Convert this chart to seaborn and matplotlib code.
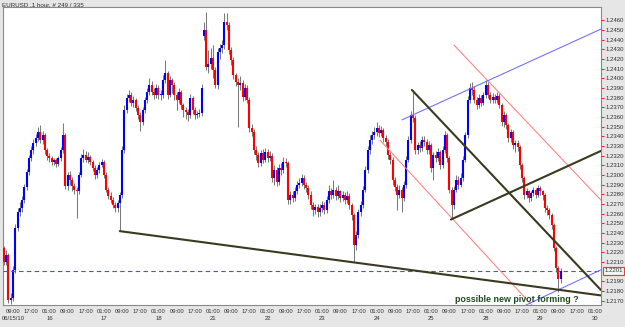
import matplotlib
matplotlib.use("Agg")
import matplotlib.pyplot as plt
import matplotlib.transforms as mtransforms
import numpy as np
import pandas as pd
import seaborn as sns

# ---------------- data (EURUSD, 1 hour) ----------------
bar_index = list(range(-4, 242))

opens = [
1.2225,1.2210,1.2217,1.2171,1.2173,1.2202,1.2245,1.2262,1.2266,1.2274,
1.2288,1.2303,1.2318,1.2326,1.2333,1.2338,1.2345,1.2336,1.2341,1.2326,
1.2320,1.2318,1.2313,1.2316,1.2311,1.2318,1.2326,1.2341,1.2289,1.2300,
1.2295,1.2289,1.2285,1.2283,1.2300,1.2318,1.2321,1.2316,1.2319,1.2313,
1.2307,1.2300,1.2305,1.2310,1.2313,1.2300,1.2285,1.2278,1.2274,1.2269,
1.2266,1.2271,1.2279,1.2326,1.2367,1.2380,1.2383,1.2374,1.2378,1.2369,
1.2362,1.2355,1.2367,1.2378,1.2386,1.2393,1.2386,1.2383,1.2390,1.2383,
1.2383,1.2398,1.2406,1.2383,1.2398,1.2393,1.2383,1.2378,1.2386,1.2372,
1.2367,1.2365,1.2362,1.2380,1.2367,1.2362,1.2363,1.2364,1.2444,1.2450,
1.2412,1.2415,1.2421,1.2409,1.2393,1.2427,1.2431,1.2434,1.2458,1.2455,
1.2429,1.2419,1.2403,1.2396,1.2393,1.2395,1.2381,1.2390,1.2378,1.2349,
1.2345,1.2326,1.2321,1.2312,1.2323,1.2316,1.2324,1.2318,1.2320,1.2297,
1.2305,1.2293,1.2307,1.2305,1.2314,1.2312,1.2274,1.2279,1.2276,1.2283,
1.2290,1.2292,1.2297,1.2290,1.2287,1.2279,1.2269,1.2264,1.2267,1.2262,
1.2266,1.2269,1.2264,1.2274,1.2283,1.2279,1.2285,1.2278,1.2283,1.2276,
1.2279,1.2274,1.2278,1.2269,1.2259,1.2228,1.2238,1.2262,1.2269,1.2285,
1.2305,1.2326,1.2336,1.2341,1.2345,1.2349,1.2343,1.2347,1.2338,1.2334,
1.2321,1.2316,1.2295,1.2288,1.2279,1.2285,1.2276,1.2290,1.2316,1.2336,
1.2362,1.2359,1.2326,1.2331,1.2328,1.2336,1.2334,1.2326,1.2331,1.2307,
1.2321,1.2318,1.2324,1.2310,1.2326,1.2341,1.2318,1.2285,1.2269,1.2285,
1.2295,1.2290,1.2297,1.2316,1.2341,1.2378,1.2390,1.2388,1.2378,1.2372,
1.2380,1.2374,1.2383,1.2393,1.2383,1.2378,1.2381,1.2378,1.2382,1.2372,
1.2355,1.2362,1.2352,1.2338,1.2345,1.2331,1.2333,1.2329,1.2310,1.2297,
1.2279,1.2283,1.2276,1.2281,1.2285,1.2279,1.2287,1.2283,1.2279,1.2266,
1.2264,1.2259,1.2248,1.2225,1.2204,1.2192]

highs = [
1.2227,1.2222,1.2219,1.2178,1.2206,1.2249,1.2266,1.2272,1.2278,1.2291,
1.2306,1.2321,1.2330,1.2337,1.2342,1.2350,1.2352,1.2346,1.2343,1.2328,
1.2323,1.2320,1.2318,1.2318,1.2320,1.2329,1.2354,1.2344,1.2303,1.2304,
1.2298,1.2292,1.2288,1.2303,1.2322,1.2327,1.2325,1.2324,1.2321,1.2316,
1.2310,1.2308,1.2313,1.2317,1.2316,1.2303,1.2288,1.2282,1.2277,1.2272,
1.2274,1.2282,1.2330,1.2372,1.2384,1.2388,1.2386,1.2382,1.2380,1.2372,
1.2365,1.2370,1.2381,1.2390,1.2400,1.2397,1.2390,1.2394,1.2393,1.2388,
1.2403,1.2419,1.2408,1.2402,1.2400,1.2396,1.2386,1.2390,1.2388,1.2375,
1.2370,1.2368,1.2384,1.2382,1.2370,1.2366,1.2368,1.2394,1.2458,1.2469,
1.2429,1.2431,1.2434,1.2412,1.2431,1.2436,1.2440,1.2468,1.2468,1.2458,
1.2432,1.2422,1.2406,1.2400,1.2402,1.2398,1.2394,1.2393,1.2381,1.2353,
1.2348,1.2330,1.2324,1.2326,1.2327,1.2328,1.2327,1.2325,1.2323,1.2310,
1.2308,1.2311,1.2312,1.2319,1.2318,1.2315,1.2284,1.2283,1.2288,1.2294,
1.2297,1.2301,1.2300,1.2293,1.2290,1.2283,1.2272,1.2270,1.2270,1.2270,
1.2273,1.2272,1.2278,1.2290,1.2287,1.2295,1.2288,1.2290,1.2285,1.2283,
1.2282,1.2284,1.2281,1.2271,1.2261,1.2242,1.2265,1.2273,1.2289,1.2309,
1.2330,1.2341,1.2346,1.2350,1.2355,1.2352,1.2351,1.2349,1.2341,1.2337,
1.2324,1.2319,1.2298,1.2291,1.2290,1.2288,1.2294,1.2320,1.2340,1.2366,
1.2388,1.2362,1.2334,1.2335,1.2340,1.2340,1.2337,1.2335,1.2333,1.2324,
1.2325,1.2328,1.2326,1.2330,1.2346,1.2344,1.2320,1.2288,1.2289,1.2300,
1.2299,1.2302,1.2320,1.2345,1.2382,1.2395,1.2396,1.2392,1.2381,1.2384,
1.2383,1.2386,1.2398,1.2396,1.2386,1.2385,1.2384,1.2386,1.2385,1.2374,
1.2366,1.2364,1.2354,1.2348,1.2347,1.2336,1.2336,1.2331,1.2312,1.2299,
1.2287,1.2285,1.2284,1.2288,1.2287,1.2290,1.2289,1.2285,1.2281,1.2269,
1.2266,1.2261,1.2250,1.2227,1.2206,1.2204]

lows = [
1.2207,1.2207,1.2168,1.2167,1.2170,1.2199,1.2242,1.2258,1.2262,1.2271,
1.2285,1.2300,1.2315,1.2322,1.2330,1.2335,1.2333,1.2332,1.2322,1.2316,
1.2313,1.2310,1.2310,1.2308,1.2309,1.2315,1.2323,1.2286,1.2285,1.2290,
1.2284,1.2280,1.2256,1.2280,1.2298,1.2314,1.2313,1.2312,1.2310,1.2304,
1.2296,1.2297,1.2302,1.2308,1.2297,1.2282,1.2275,1.2271,1.2266,1.2262,
1.2262,1.2243,1.2276,1.2323,1.2364,1.2376,1.2371,1.2370,1.2366,1.2358,
1.2346,1.2352,1.2364,1.2375,1.2383,1.2383,1.2379,1.2380,1.2379,1.2378,
1.2380,1.2395,1.2379,1.2381,1.2385,1.2378,1.2367,1.2374,1.2368,1.2360,
1.2358,1.2356,1.2359,1.2363,1.2358,1.2359,1.2360,1.2361,1.2440,1.2409,
1.2406,1.2410,1.2400,1.2390,1.2389,1.2420,1.2426,1.2430,1.2450,1.2425,
1.2414,1.2399,1.2392,1.2350,1.2388,1.2377,1.2378,1.2374,1.2345,1.2340,
1.2322,1.2316,1.2308,1.2309,1.2312,1.2313,1.2314,1.2315,1.2293,1.2290,
1.2289,1.2290,1.2300,1.2302,1.2308,1.2270,1.2270,1.2272,1.2273,1.2280,
1.2287,1.2289,1.2286,1.2282,1.2275,1.2265,1.2258,1.2260,1.2257,1.2258,
1.2262,1.2260,1.2261,1.2271,1.2275,1.2276,1.2274,1.2275,1.2272,1.2273,
1.2270,1.2271,1.2265,1.2254,1.2210,1.2222,1.2235,1.2258,1.2266,1.2282,
1.2302,1.2322,1.2332,1.2337,1.2340,1.2339,1.2340,1.2334,1.2330,1.2317,
1.2311,1.2290,1.2283,1.2264,1.2276,1.2262,1.2273,1.2287,1.2313,1.2333,
1.2355,1.2322,1.2322,1.2324,1.2325,1.2330,1.2322,1.2322,1.2303,1.2295,
1.2314,1.2315,1.2306,1.2307,1.2323,1.2314,1.2281,1.2256,1.2265,1.2282,
1.2286,1.2288,1.2294,1.2313,1.2338,1.2375,1.2383,1.2374,1.2368,1.2369,
1.2371,1.2372,1.2380,1.2380,1.2374,1.2375,1.2374,1.2375,1.2369,1.2351,
1.2350,1.2348,1.2334,1.2334,1.2327,1.2324,1.2325,1.2306,1.2293,1.2275,
1.2276,1.2272,1.2273,1.2278,1.2276,1.2277,1.2279,1.2274,1.2262,1.2259,
1.2255,1.2244,1.2221,1.2200,1.2179,1.2188]

closes = [
1.2210,1.2217,1.2171,1.2173,1.2202,1.2245,1.2262,1.2266,1.2274,1.2288,
1.2303,1.2318,1.2326,1.2333,1.2338,1.2345,1.2336,1.2341,1.2326,1.2320,
1.2318,1.2313,1.2316,1.2311,1.2318,1.2326,1.2341,1.2289,1.2300,1.2295,
1.2289,1.2285,1.2283,1.2300,1.2318,1.2321,1.2316,1.2319,1.2313,1.2307,
1.2300,1.2305,1.2310,1.2313,1.2300,1.2285,1.2278,1.2274,1.2269,1.2266,
1.2271,1.2279,1.2326,1.2367,1.2380,1.2383,1.2374,1.2378,1.2369,1.2362,
1.2355,1.2367,1.2378,1.2386,1.2393,1.2386,1.2383,1.2390,1.2383,1.2383,
1.2398,1.2406,1.2383,1.2398,1.2393,1.2383,1.2378,1.2386,1.2372,1.2367,
1.2365,1.2362,1.2380,1.2367,1.2362,1.2363,1.2364,1.2390,1.2450,1.2412,
1.2415,1.2421,1.2409,1.2393,1.2427,1.2431,1.2434,1.2458,1.2455,1.2429,
1.2419,1.2403,1.2396,1.2393,1.2395,1.2381,1.2390,1.2378,1.2349,1.2345,
1.2326,1.2321,1.2312,1.2323,1.2316,1.2324,1.2318,1.2320,1.2297,1.2305,
1.2293,1.2307,1.2305,1.2314,1.2312,1.2274,1.2279,1.2276,1.2283,1.2290,
1.2292,1.2297,1.2290,1.2287,1.2279,1.2269,1.2264,1.2267,1.2262,1.2266,
1.2269,1.2264,1.2274,1.2283,1.2279,1.2285,1.2278,1.2283,1.2276,1.2279,
1.2274,1.2278,1.2269,1.2259,1.2228,1.2238,1.2262,1.2269,1.2285,1.2305,
1.2326,1.2336,1.2341,1.2345,1.2349,1.2343,1.2347,1.2338,1.2334,1.2321,
1.2316,1.2295,1.2288,1.2279,1.2285,1.2276,1.2290,1.2316,1.2336,1.2362,
1.2359,1.2326,1.2331,1.2328,1.2336,1.2334,1.2326,1.2331,1.2307,1.2321,
1.2318,1.2324,1.2310,1.2326,1.2341,1.2318,1.2285,1.2269,1.2285,1.2295,
1.2290,1.2297,1.2316,1.2341,1.2378,1.2390,1.2388,1.2378,1.2372,1.2380,
1.2374,1.2383,1.2393,1.2383,1.2378,1.2381,1.2378,1.2382,1.2372,1.2355,
1.2362,1.2352,1.2338,1.2345,1.2331,1.2333,1.2329,1.2310,1.2297,1.2279,
1.2283,1.2276,1.2281,1.2285,1.2279,1.2287,1.2283,1.2279,1.2266,1.2264,
1.2259,1.2248,1.2225,1.2204,1.2192,1.2201]

# time axis labels (every 8 bars)
tick_bars = list(range(0, 257, 8))
tick_labels = [
"09:00\n06/15/10", "17:00", "01:00\n16", "09:00", "17:00", "01:00\n17", "09:00", "17:00",
"01:00\n18", "09:00", "17:00", "01:00\n21", "09:00", "17:00", "01:00\n22", "09:00", "17:00",
"01:00\n23", "09:00", "17:00", "01:00\n24", "09:00", "17:00", "01:00\n25", "09:00", "17:00",
"01:00\n28", "09:00", "17:00", "01:00\n29", "09:00", "17:00", "01:00\n30"]

price_ticks = [1.2170, 1.2180, 1.2190, 1.2210, 1.2220, 1.2230, 1.2240, 1.2250, 1.2260,
               1.2270, 1.2280, 1.2290, 1.2300, 1.2310, 1.2320, 1.2330, 1.2340, 1.2350,
               1.2360, 1.2370, 1.2380, 1.2390, 1.2400, 1.2410, 1.2420, 1.2430, 1.2440,
               1.2450, 1.2460]
last_price = 1.2201

# drawn trend objects: (line, bar, price)
black_lines = {"line": ["a", "a", "b", "b", "c", "c"],
               "bar": [47.0, 258.7, 175.5, 258.7, 192.7, 258.7],
               "price": [1.2242, 1.21755, 1.2388, 1.2181, 1.2254, 1.2325]}
blue_lines = {"line": ["a", "a", "b", "b"],
              "bar": [171.1, 258.7, 225.7, 258.7],
              "price": [1.2357, 1.2451, 1.21656, 1.2202]}
red_lines = {"line": ["a", "a", "b", "b"],
             "bar": [194.0, 258.7, 161.5, 232.0],
             "price": [1.24345, 1.2274, 1.2336, 1.2156]}

note_text = "possible new pivot forming ?"
note_bar, note_price = 221.7, 1.21718

# ---------------- drawing ----------------
sns.set_theme(style="white")
plt.rcParams["font.family"] = ["Liberation Sans", "DejaVu Sans"]

bg = "#e6e6e6"
fig = plt.figure(figsize=(6.25, 3.27), dpi=100, facecolor=bg)
ax = fig.add_axes([3 / 625, 22 / 327, 598 / 625, 298 / 327])
ax.set_facecolor("white")
ax.set_xlim(-4.4, 258.7)
ax.set_ylim(1.21656, 1.24738)

df = pd.DataFrame({"bar": bar_index, "open": opens, "high": highs,
                   "low": lows, "close": closes})
up = df["close"] >= df["open"]

# wicks
ax.vlines(df["bar"], df["low"], df["high"], colors="#7a7a7a", linewidth=0.75, zorder=2)
# bodies
body_lo = np.minimum(df["open"], df["close"])
body_hi = np.maximum(df["open"], df["close"])
body_hi = np.maximum(body_hi, body_lo + 0.00005)
ax.vlines(df["bar"][up], body_lo[up], body_hi[up], colors="#0000ff", linewidth=1.5, zorder=3)
ax.vlines(df["bar"][~up], body_lo[~up], body_hi[~up], colors="#ff0000", linewidth=1.5, zorder=3)

# current price dashed line
ax.axhline(last_price, color="#4a4aff", linewidth=0.8, linestyle=(0, (4, 3)), zorder=4)

# trend lines
sns.lineplot(data=pd.DataFrame(red_lines), x="bar", y="price", units="line",
             estimator=None, color="#ff7f7f", linewidth=0.75, ax=ax, zorder=4)
sns.lineplot(data=pd.DataFrame(blue_lines), x="bar", y="price", units="line",
             estimator=None, color="#6b6bff", linewidth=0.75, ax=ax, zorder=4)
sns.lineplot(data=pd.DataFrame(black_lines), x="bar", y="price", units="line",
             estimator=None, color="#3a3a1e", linewidth=1.5, ax=ax, zorder=5)

ax.text(note_bar, note_price, note_text, color="#1e4a1e", fontsize=6.4,
        fontweight="bold", ha="center", va="center", zorder=6)

# axes styling
for s in ax.spines.values():
    s.set_color("#8a8a8a")
    s.set_linewidth(0.8)

ax.yaxis.tick_right()
ax.set_yticks(price_ticks)
ax.set_yticklabels([f"{p:.4f}" for p in price_ticks])
ax.tick_params(axis="y", which="major", direction="out", length=2.5, width=0.8,
               color="#ff2020", labelsize=4.3, labelcolor="#303030", pad=1.0)
ax.set_xticks(tick_bars)
ax.set_xticklabels(tick_labels, linespacing=1.45)
ax.tick_params(axis="x", which="major", direction="out", length=1.5, width=0.8,
               color="#ff2020", labelsize=4.2, labelcolor="#303030", pad=1.5)
ax.set_xlabel("")
ax.set_ylabel("")
for lab in ax.get_xticklabels():
    lab.set_verticalalignment("top")

trans = mtransforms.blended_transform_factory(ax.transAxes, ax.transData)
ax.text(1.0055, last_price, f"{last_price:.4f}", transform=trans, fontsize=4.3,
        color="#303030", ha="left", va="center", zorder=7, clip_on=False,
        bbox=dict(boxstyle="square,pad=0.25", facecolor="#f4f4f4",
                  edgecolor="#ff3030", linewidth=0.8))

fig.text(2 / 625, 1 - 4.5 / 327, "EURUSD ,1 hour, # 249 / 335", fontsize=4.5,
         color="#303030", ha="left", va="center")

fig.savefig("out.png", dpi=100, facecolor=bg)
